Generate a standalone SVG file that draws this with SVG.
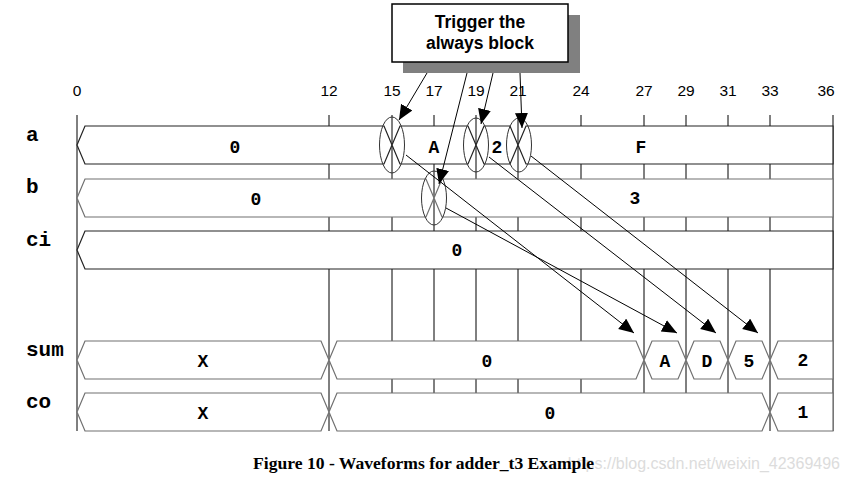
<svg xmlns="http://www.w3.org/2000/svg" width="849" height="482" viewBox="0 0 849 482">
<style>
.bg{fill:#fff}
.grid{stroke:#000;stroke-width:1}
.axis{font-family:"Liberation Sans",Arial,sans-serif;font-size:15.5px;fill:#000;text-anchor:middle}
.sig{font-family:"Liberation Mono","Courier New",monospace;font-weight:bold;font-size:21px;fill:#000}
.val{font-family:"Liberation Mono","Courier New",monospace;font-weight:bold;font-size:18px;fill:#000;text-anchor:middle}
.barA{fill:#fff;stroke:#222;stroke-width:1.2}
.barG{fill:#fff;stroke:#707070;stroke-width:1.2}
.ell{fill:none;stroke:#333;stroke-width:1}
.conn{stroke:#000;stroke-width:1;fill:none}
.call{font-family:"Liberation Sans",Arial,sans-serif;font-weight:bold;font-size:17.5px;fill:#000;text-anchor:middle}
.cap{font-family:"Liberation Serif","Times New Roman",serif;font-weight:bold;font-size:17.6px;fill:#000}
.wm{font-family:"Liberation Sans",Arial,sans-serif;font-size:16px;fill:#dcdcdc;text-anchor:end}
</style>
<defs>
<marker id="ah" markerUnits="userSpaceOnUse" markerWidth="16" markerHeight="14" refX="15" refY="6.5" orient="auto">
<path d="M0,0 L15,6.5 L0,13 Z" fill="#000"/>
</marker>
</defs>
<rect class="bg" x="0" y="0" width="849" height="482"/>

<g id="axis">
<g class="grid">
<line x1="77" y1="115" x2="77" y2="431"/>
<line x1="329" y1="115" x2="329" y2="431"/>
<line x1="392" y1="115" x2="392" y2="431"/>
<line x1="434" y1="115" x2="434" y2="431"/>
<line x1="476" y1="115" x2="476" y2="431"/>
<line x1="518" y1="115" x2="518" y2="431"/>
<line x1="581" y1="115" x2="581" y2="431"/>
<line x1="644" y1="115" x2="644" y2="431"/>
<line x1="686" y1="115" x2="686" y2="431"/>
<line x1="728" y1="115" x2="728" y2="431"/>
<line x1="770" y1="115" x2="770" y2="431"/>
<line x1="833" y1="115" x2="833" y2="431"/>
</g>
<text class="axis" x="77" y="96">0</text>
<text class="axis" x="329" y="96">12</text>
<text class="axis" x="392" y="96">15</text>
<text class="axis" x="434" y="96">17</text>
<text class="axis" x="476" y="96">19</text>
<text class="axis" x="518" y="96">21</text>
<text class="axis" x="581" y="96">24</text>
<text class="axis" x="644" y="96">27</text>
<text class="axis" x="686" y="96">29</text>
<text class="axis" x="728" y="96">31</text>
<text class="axis" x="770" y="96">33</text>
<text class="axis" x="826" y="96">36</text>
</g>

<g id="sig-a">
<text class="sig" x="26" y="141">a</text>
<path class="barA" d="M77,145 L85,126 L384,126 L392,145 L384,164 L85,164 Z"/>
<path class="barA" d="M392,145 L400,126 L468,126 L476,145 L468,164 L400,164 Z"/>
<path class="barA" d="M476,145 L484,126 L510,126 L518,145 L510,164 L484,164 Z"/>
<path class="barA" d="M518,145 L526,126 L833,126 L833,164 L526,164 Z"/>
<text class="val" x="235" y="153">0</text>
<text class="val" x="434" y="153">A</text>
<text class="val" x="497" y="153">2</text>
<text class="val" x="641" y="153">F</text>
</g>

<g id="sig-b">
<text class="sig" x="26" y="193">b</text>
<path class="barG" d="M77,198 L85,179 L426,179 L434,198 L426,217 L85,217 Z"/>
<path class="barG" d="M434,198 L442,179 L833,179 L833,217 L442,217 Z"/>
<text class="val" x="256" y="205">0</text>
<text class="val" x="635" y="204">3</text>
</g>

<g id="sig-ci">
<text class="sig" x="26" y="246">ci</text>
<path class="barA" d="M77,250 L85,231 L833,231 L833,269 L85,269 Z"/>
<text class="val" x="457" y="256">0</text>
</g>

<g id="sig-sum">
<text class="sig" x="26" y="356">sum</text>
<path class="barG" d="M77,360 L85,341 L321,341 L329,360 L321,379 L85,379 Z"/>
<path class="barG" d="M329,360 L337,341 L636,341 L644,360 L636,379 L337,379 Z"/>
<path class="barG" d="M644,360 L652,341 L678,341 L686,360 L678,379 L652,379 Z"/>
<path class="barG" d="M686,360 L694,341 L720,341 L728,360 L720,379 L694,379 Z"/>
<path class="barG" d="M728,360 L736,341 L762,341 L770,360 L762,379 L736,379 Z"/>
<path class="barG" d="M770,360 L778,341 L833,341 L833,379 L778,379 Z"/>
<text class="val" x="203" y="367">X</text>
<text class="val" x="487" y="367">0</text>
<text class="val" x="665" y="367">A</text>
<text class="val" x="707" y="367">D</text>
<text class="val" x="749" y="367">5</text>
<text class="val" x="803" y="366">2</text>
</g>

<g id="sig-co">
<text class="sig" x="26" y="408">co</text>
<path class="barG" d="M77,412 L85,393 L321,393 L329,412 L321,431 L85,431 Z"/>
<path class="barG" d="M329,412 L337,393 L762,393 L770,412 L762,431 L337,431 Z"/>
<path class="barG" d="M770,412 L778,393 L833,393 L833,431 L778,431 Z"/>
<text class="val" x="203" y="419">X</text>
<text class="val" x="550" y="419">0</text>
<text class="val" x="803" y="418">1</text>
</g>

<g id="events">
<ellipse class="ell" cx="392" cy="145" rx="12.5" ry="28"/>
<ellipse class="ell" cx="476" cy="145" rx="12.5" ry="27"/>
<ellipse class="ell" cx="519" cy="145" rx="12.5" ry="27"/>
<ellipse class="ell" cx="434" cy="198" rx="12.5" ry="27"/>
</g>

<g id="callout">
<rect x="403" y="15" width="177" height="58" fill="#808080"/>
<rect x="392" y="4" width="176" height="58" fill="#fff" stroke="#000" stroke-width="1.5"/>
<text class="call" x="480" y="28">Trigger the</text>
<text class="call" x="480" y="49">always block</text>
</g>

<g id="connectors">
<line class="conn" x1="427" y1="73" x2="399" y2="120" marker-end="url(#ah)"/>
<line class="conn" x1="467" y1="73" x2="439" y2="184" marker-end="url(#ah)"/>
<line class="conn" x1="493" y1="73" x2="481" y2="124" marker-end="url(#ah)"/>
<line class="conn" x1="520" y1="73" x2="522" y2="128" marker-end="url(#ah)"/>
<line class="conn" x1="406" y1="155" x2="634" y2="333" marker-end="url(#ah)"/>
<line class="conn" x1="446" y1="208" x2="677" y2="333" marker-end="url(#ah)"/>
<line class="conn" x1="489" y1="157" x2="716" y2="333" marker-end="url(#ah)"/>
<line class="conn" x1="531" y1="156" x2="758" y2="333" marker-end="url(#ah)"/>
</g>

<g id="caption">
<text class="wm" x="840" y="469">https://blog.csdn.net/weixin_42369496</text>
<text class="cap" x="253" y="469">Figure 10 - Waveforms for adder_t3 Example</text>
</g>
</svg>
